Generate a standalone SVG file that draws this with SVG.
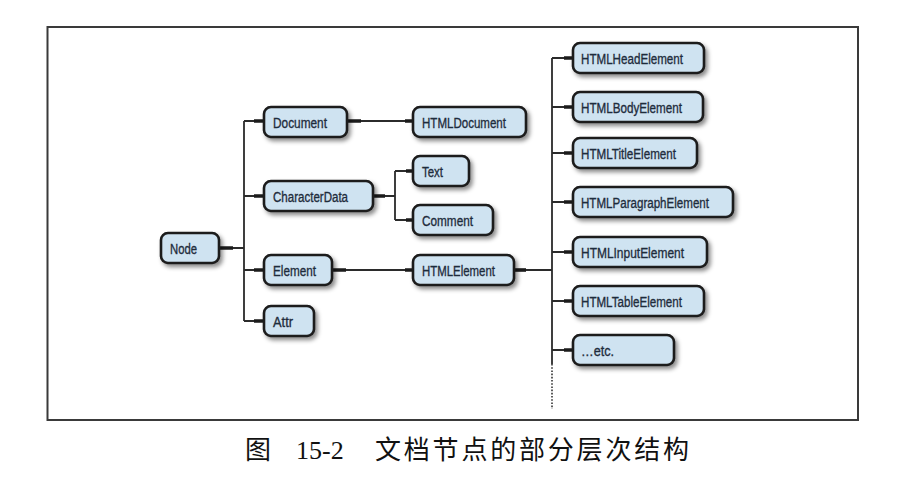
<svg xmlns="http://www.w3.org/2000/svg" width="911" height="499" viewBox="0 0 911 499">
<defs>
<filter id="sh" x="-20%" y="-30%" width="150%" height="180%">
<feDropShadow dx="2.5" dy="3" stdDeviation="2" flood-color="#000" flood-opacity="0.45"/>
</filter>
</defs>
<style>
.box{fill:#cfe3f1;stroke:#1b1b1b;stroke-width:2.6;filter:url(#sh)}
.lbl{font-family:"Liberation Sans",Arial,sans-serif;font-size:15.5px;fill:#1e2c3c;stroke:#1e2c3c;stroke-width:0.35}
.ln{stroke:#2b2b2b;stroke-width:1.8;fill:none}
.st{stroke:#1b1b1b;stroke-width:3.6;fill:none}
.dot{stroke:#333;stroke-width:1.6;stroke-dasharray:1.6 1.6;fill:none}
.cap{font-family:"Noto Sans CJK SC","Liberation Serif",serif;font-size:26px;fill:#111}
</style>
<rect width="911" height="499" fill="#fff"/>
<rect x="47.5" y="27" width="810.5" height="393" fill="#fff" stroke="#3a3a3a" stroke-width="2"/>

<g id="connectors">
<path class="ln" d="M219 248H244M244 121V321M244 121H264M244 196H264M244 270H264M244 321H264"/>
<path class="st" d="M219 248H233M254 121H264M254 196H264M254 270H264M254 321H264"/>
<path class="ln" d="M347 121H413"/>
<path class="st" d="M347 121H361M405 121H413"/>
<path class="ln" d="M373 196H395M395 171V220M395 171H413M395 220H413"/>
<path class="st" d="M373 196H385M406 171H413M406 220H413"/>
<path class="ln" d="M332 270H413"/>
<path class="st" d="M332 270H346M405 270H413"/>
<path class="ln" d="M514 270H552"/>
<path class="st" d="M514 270H526"/>
<path class="ln" d="M552 58V364M552 58H573M552 107H573M552 153H573M552 202H573M552 252H573M552 301H573M552 350H573"/>
<path class="st" d="M564 58H573M564 107H573M564 153H573M564 202H573M564 252H573M564 301H573M564 350H573"/>
<path class="dot" d="M552 364V409"/>
</g>

<g id="node-Node"><rect class="box" x="161" y="233" width="58" height="30" rx="7"/><text class="lbl" x="170" y="253.5" textLength="27" lengthAdjust="spacingAndGlyphs">Node</text></g>
<g id="node-Document"><rect class="box" x="264" y="107" width="83" height="30" rx="7"/><text class="lbl" x="273" y="127.5" textLength="54" lengthAdjust="spacingAndGlyphs">Document</text></g>
<g id="node-CharacterData"><rect class="box" x="264" y="181" width="109" height="30" rx="7"/><text class="lbl" x="273" y="201.5" textLength="75" lengthAdjust="spacingAndGlyphs">CharacterData</text></g>
<g id="node-Element"><rect class="box" x="264" y="255" width="68" height="30" rx="7"/><text class="lbl" x="273" y="275.5" textLength="43" lengthAdjust="spacingAndGlyphs">Element</text></g>
<g id="node-Attr"><rect class="box" x="264" y="306" width="50" height="30" rx="7"/><text class="lbl" x="273" y="326.5" textLength="20" lengthAdjust="spacingAndGlyphs">Attr</text></g>
<g id="node-HTMLDocument"><rect class="box" x="413" y="107" width="113" height="30" rx="7"/><text class="lbl" x="422" y="127.5" textLength="84" lengthAdjust="spacingAndGlyphs">HTMLDocument</text></g>
<g id="node-Text"><rect class="box" x="413" y="156" width="56" height="30" rx="7"/><text class="lbl" x="422" y="176.5" textLength="21" lengthAdjust="spacingAndGlyphs">Text</text></g>
<g id="node-Comment"><rect class="box" x="413" y="205" width="80" height="30" rx="7"/><text class="lbl" x="422" y="225.5" textLength="51" lengthAdjust="spacingAndGlyphs">Comment</text></g>
<g id="node-HTMLElement"><rect class="box" x="413" y="255" width="101" height="30" rx="7"/><text class="lbl" x="422" y="275.5" textLength="73" lengthAdjust="spacingAndGlyphs">HTMLElement</text></g>
<g id="node-HTMLHeadElement"><rect class="box" x="573" y="43" width="131" height="30" rx="7"/><text class="lbl" x="581" y="63.5" textLength="102" lengthAdjust="spacingAndGlyphs">HTMLHeadElement</text></g>
<g id="node-HTMLBodyElement"><rect class="box" x="573" y="92" width="130" height="30" rx="7"/><text class="lbl" x="581" y="112.5" textLength="101" lengthAdjust="spacingAndGlyphs">HTMLBodyElement</text></g>
<g id="node-HTMLTitleElement"><rect class="box" x="573" y="138" width="124" height="30" rx="7"/><text class="lbl" x="581" y="158.5" textLength="95" lengthAdjust="spacingAndGlyphs">HTMLTitleElement</text></g>
<g id="node-HTMLParagraphElement"><rect class="box" x="573" y="187" width="160" height="30" rx="7"/><text class="lbl" x="581" y="207.5" textLength="128" lengthAdjust="spacingAndGlyphs">HTMLParagraphElement</text></g>
<g id="node-HTMLInputElement"><rect class="box" x="573" y="237" width="134" height="30" rx="7"/><text class="lbl" x="581" y="257.5" textLength="103" lengthAdjust="spacingAndGlyphs">HTMLInputElement</text></g>
<g id="node-HTMLTableElement"><rect class="box" x="573" y="286" width="131" height="30" rx="7"/><text class="lbl" x="581" y="306.5" textLength="101" lengthAdjust="spacingAndGlyphs">HTMLTableElement</text></g>
<g id="node-etc"><rect class="box" x="573" y="335" width="101" height="30" rx="7"/><text class="lbl" x="581" y="355.5" textLength="33" lengthAdjust="spacingAndGlyphs">…etc.</text></g>

<g id="caption">
<text class="cap" x="245" y="459">图</text>
<text x="296" y="459" font-family="'Liberation Serif',serif" font-size="26" fill="#111">15-2</text>
<text class="cap" x="375" y="459" letter-spacing="2.8">文档节点的部分层次结构</text>
</g>
</svg>
